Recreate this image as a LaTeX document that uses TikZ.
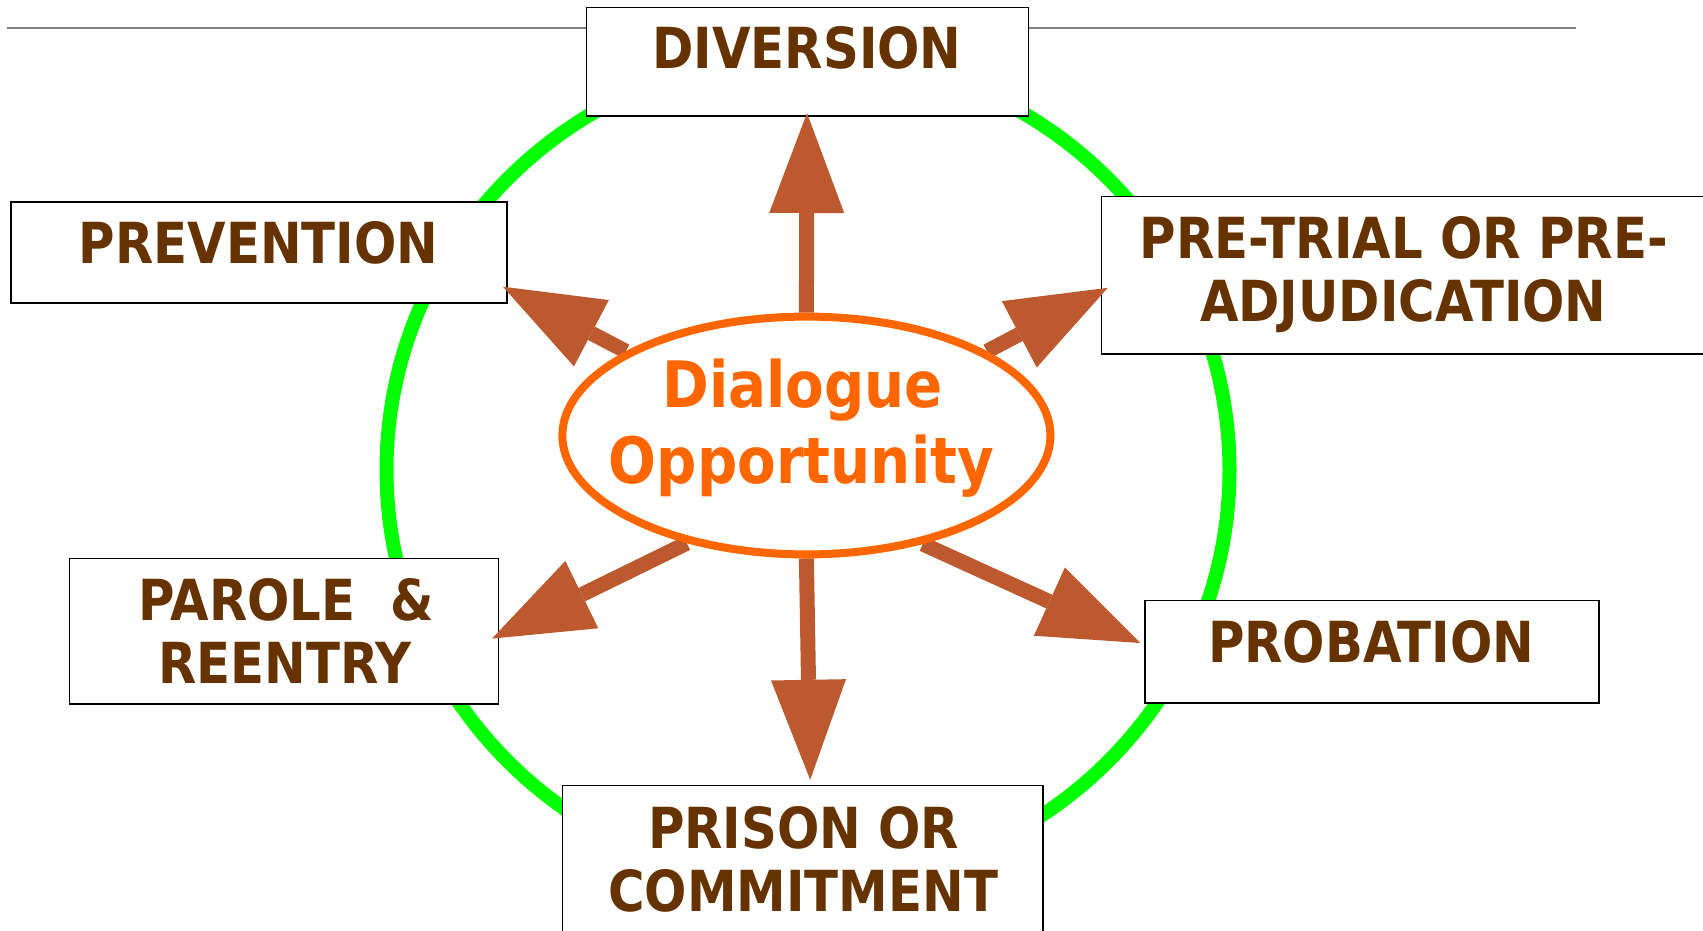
\documentclass[tikz,border=0pt]{standalone}
\usepackage{fontspec}
\newfontfamily\lblfont{DejaVu Sans}[FakeStretch=0.88]
\usetikzlibrary{arrows.meta,shapes.geometric}
\definecolor{txtbrown}{RGB}{102,51,0}
\definecolor{dlgorange}{RGB}{255,102,0}
\definecolor{arrowc}{RGB}{189,89,46}
\definecolor{ringgreen}{RGB}{0,255,0}
\definecolor{rulegray}{RGB}{128,128,128}
\pgfdeclarelayer{bg}
\pgfdeclarelayer{fg}
\pgfsetlayers{bg,main,fg}
\begin{document}
\begin{tikzpicture}[x=1pt,y=-1pt,
  box/.style={draw=black, fill=white, line width=1.5pt, inner sep=0pt},
  lbl/.style={font=\lblfont\bfseries\fontsize{56.6}{63}\selectfont, text=txtbrown, inner sep=0pt, anchor=base},
  dlgtxt/.style={font=\lblfont\bfseries\fontsize{64}{75}\selectfont, text=dlgorange, inner sep=0pt, anchor=base},
  arr/.style={draw=arrowc, line width=15pt, -{Triangle[length=100pt,width=75pt,line width=0pt]}}]
\useasboundingbox (0,0) rectangle (1703,930);

\begin{pgfonlayer}{bg}
\draw[ringgreen, line width=14pt] (808,470) ellipse [x radius=421.5, y radius=415];
\draw[rulegray, line width=2pt] (6.5,28.2) -- (1576,28.2);
\end{pgfonlayer}

% boxes
\node[box, minimum width=442pt, minimum height=108.6pt] (div) at (807.5,61.9) {};
\node[box, minimum width=496.3pt, minimum height=101pt] (prev) at (259,252.5) {};
\node[box, minimum width=618.7pt, minimum height=157.4pt] (pre) at (1410.7,275.3) {};
\node[box, minimum width=429pt, minimum height=145.5pt] (par) at (284,631) {};
\node[box, minimum width=453.9pt, minimum height=102.1pt] (prob) at (1371.8,651.7) {};
\node[box, minimum width=480.1pt, minimum height=164.7pt] (pris) at (802.7,867.7) {};

% labels
\node[lbl] (tdiv) at (807,68.9) {DIVERSION};
\node[lbl] (tprev) at (258.5,263.9) {PREVENTION};
\node[lbl] (tpre1) at (1403.8,258.5) {PRE-TRIAL OR PRE-};
\node[lbl] (tpre2) at (1403.3,321.5) {ADJUDICATION};
\node[lbl] (tpar1) at (286,620.1) {PAROLE\ \ \&};
\node[lbl] (tpar2) at (285,683.1) {REENTRY};
\node[lbl] (tprob) at (1371.2,662.5) {PROBATION};
\node[lbl] (tpris1) at (803.7,848.2) {PRISON OR};
\node[lbl] (tpris2) at (803.2,911.2) {COMMITMENT};

% central ellipse
\begin{pgfonlayer}{fg}
\node[ellipse, draw=dlgorange, fill=white, line width=8pt, minimum width=488pt, minimum height=237.8pt, inner sep=0pt] (dlg) at (806.4,435.5) {};
\node[dlgtxt] (tdlg1) at (802.6,407.8) {Dialogue};
\node[dlgtxt] (tdlg2) at (801.5,483.3) {Opportunity};
\end{pgfonlayer}

% arrow tips
\coordinate (tipUp) at (807,113);
\coordinate (tipNW) at (502.9,286.7);
\coordinate (tipNE) at (1107.8,287.8);
\coordinate (tipSW) at (492,638.6);
\coordinate (tipDown) at (810.2,779.8);
\coordinate (tipSE) at (1140.4,643);

\draw[arr] (dlg.north) -- (tipUp);
\draw[arr] (dlg.155) -- (tipNW);
\draw[arr] (dlg.25) -- (tipNE);
\draw[arr] (dlg.222) -- (tipSW);
\draw[arr] (dlg.south) -- (tipDown);
\draw[arr] (dlg.317) -- (tipSE);
\end{tikzpicture}
\end{document}
